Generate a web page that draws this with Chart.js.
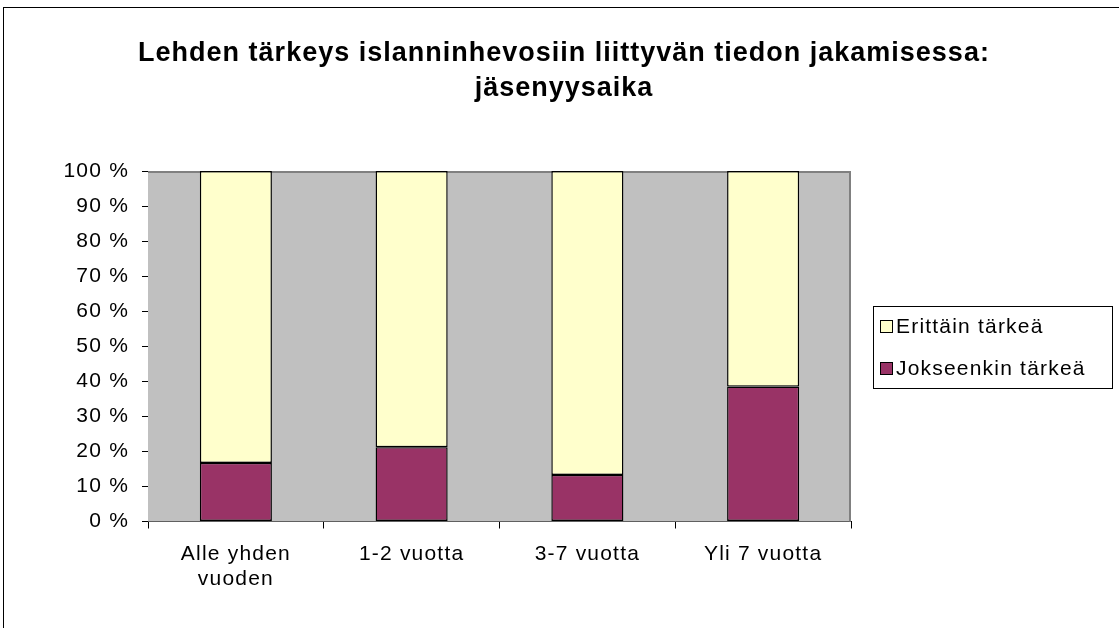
<!DOCTYPE html>
<html>
<head>
<meta charset="utf-8">
<script src="https://cdn.jsdelivr.net/npm/chart.js@4/dist/chart.umd.min.js"></script>
<style>
html,body{margin:0;padding:0;background:#fff;}
canvas{display:block;}
</style>
</head>
<body>
<canvas id="c" width="1119" height="628"></canvas>
<script>
const titleLines = ["Lehden tärkeys islanninhevosiin liittyvän tiedon jakamisessa:", "jäsenyysaika"];
const categories = [["Alle yhden", "vuoden"], "1-2 vuotta", "3-7 vuotta", "Yli 7 vuotta"];
const seriesNames = ["Jokseenkin tärkeä", "Erittäin tärkeä"];
const jokseenkin = [16.7, 21.2, 13.3, 38.5];
const erittain = [83.3, 78.8, 86.7, 61.5];
const yTickValues = [0, 10, 20, 30, 40, 50, 60, 70, 80, 90, 100];

const FONT = "'Liberation Sans', Arial, sans-serif";
const SPACING = '1.2px';

const decor = {
  id: 'decor',
  beforeInit(chart) { chart.ctx.letterSpacing = SPACING; },
  beforeUpdate(chart) { chart.ctx.letterSpacing = SPACING; },
  beforeDatasetsDraw(chart) {
    const {ctx, chartArea: a} = chart;
    ctx.save();
    ctx.fillStyle = '#C0C0C0';
    ctx.fillRect(a.left, a.top, a.right - a.left, a.bottom - a.top);
    ctx.strokeStyle = '#808080';
    ctx.lineWidth = 2;
    ctx.beginPath();
    ctx.moveTo(a.left, a.top + 1);
    ctx.lineTo(a.right - 1, a.top + 1);
    ctx.lineTo(a.right - 1, a.bottom);
    ctx.stroke();
    ctx.restore();
  },
  afterDraw(chart) {
    const {ctx} = chart;
    ctx.save();
    ctx.strokeStyle = '#000';
    ctx.lineWidth = 1;
    ctx.strokeRect(3.5, 7.5, 1200, 700);
    // title
    ctx.fillStyle = '#000';
    ctx.letterSpacing = '1px';
    ctx.font = "bold 27px " + FONT;
    ctx.textAlign = 'center';
    ctx.textBaseline = 'middle';
    ctx.fillText(titleLines[0], 564, 54);
    ctx.fillText(titleLines[1], 564, 89);
    // legend
    ctx.letterSpacing = SPACING;
    ctx.strokeRect(873.5, 306.5, 239, 82);
    const ds = chart.data.datasets;
    const order = [1, 0];
    ctx.font = "21px " + FONT;
    ctx.textAlign = 'left';
    order.forEach((i, k) => {
      const cy = 326 + k * 42;
      ctx.fillStyle = ds[i].backgroundColor;
      ctx.fillRect(880.5, cy - 5.5, 12, 12);
      ctx.strokeStyle = '#000';
      ctx.strokeRect(880.5, cy - 5.5, 12, 12);
      ctx.fillStyle = '#000';
      ctx.fillText(ds[i].label, 896, cy + 1);
    });
    ctx.restore();
  }
};

new Chart(document.getElementById('c'), {
  type: 'bar',
  data: {
    labels: categories,
    datasets: [
      {label: seriesNames[0], data: jokseenkin, backgroundColor: '#993366', borderColor: '#000', borderWidth: 1.4, borderSkipped: false},
      {label: seriesNames[1], data: erittain, backgroundColor: '#FFFFCC', borderColor: '#000', borderWidth: 1.4, borderSkipped: false}
    ]
  },
  options: {
    responsive: false,
    animation: false,
    layout: {padding: {top: 171, right: 268, left: 0, bottom: 0}},
    plugins: {legend: {display: false}, title: {display: false}, tooltip: {enabled: false}},
    datasets: {bar: {categoryPercentage: 1, barPercentage: 0.41}},
    scales: {
      x: {
        stacked: true,
        afterFit(s) { s.height = 106.5; },
        grid: {offset: true, drawOnChartArea: false, drawTicks: true, tickLength: 7, color: '#000', lineWidth: 1},
        border: {display: true, color: '#000', width: 1},
        ticks: {color: '#000', font: {family: FONT, size: 21, lineHeight: 1.2}, padding: 13, maxRotation: 0, autoSkip: false}
      },
      y: {
        stacked: true,
        min: 0, max: 100,
        afterFit(s) { s.width = 148; },
        afterBuildTicks(s) { s.ticks = yTickValues.map(v => ({value: v})); },
        grid: {drawOnChartArea: false, drawTicks: true, tickLength: 6, color: '#000', lineWidth: 1},
        border: {display: true, color: '#000', width: 1},
        ticks: {color: '#000', font: {family: FONT, size: 21}, padding: 13, callback: v => v + ' %'}
      }
    }
  },
  plugins: [decor]
});
</script>
</body>
</html>
